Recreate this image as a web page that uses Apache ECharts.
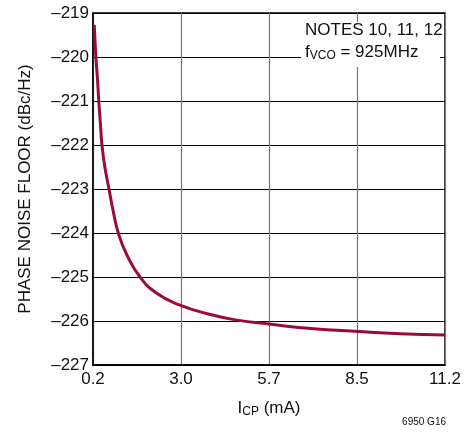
<!DOCTYPE html>
<html>
<head>
<meta charset="utf-8">
<script src="https://cdn.jsdelivr.net/npm/echarts@6/dist/echarts.min.js"></script>
<style>
html,body{margin:0;padding:0;background:#fff;}
#c{width:474px;height:433px;}
</style>
</head>
<body>
<div id="c"></div>
<script>
// Data
const icp = [0.24, 0.29, 0.34, 0.38, 0.43, 0.48, 0.57, 0.70, 0.83, 0.99, 1.26, 1.67, 2.19, 2.92, 3.8, 4.7, 5.7, 7.0, 8.5, 9.8, 11.2];
const noise = [-219.27, -220.0, -220.5, -221.0, -221.5, -222.0, -222.5, -223.0, -223.5, -224.0, -224.5, -225.0, -225.37, -225.64, -225.84, -225.98, -226.07, -226.17, -226.24, -226.29, -226.32];
const xTickLabels = ['0.2', '3.0', '5.7', '8.5', '11.2'];
const xStart = 0.2;
const xEnd = 11.2;
const yMin = -227;
const yMax = -219;

const FONT = '"Liberation Sans Narrow", "Liberation Sans", Arial, sans-serif';
const xStep = (xEnd - xStart) / (xTickLabels.length - 1);

const chart = echarts.init(document.getElementById('c'), null, {renderer: 'canvas'});
chart.setOption({
  animation: false,
  backgroundColor: '#fff',
  grid: {left: 93, right: 29, top: 13, bottom: 68, containLabel: false,
         show: true, borderColor: '#000', borderWidth: 1.5},
  xAxis: {
    type: 'value',
    min: 0, max: xEnd - xStart, interval: xStep,
    axisLine: {show: true, lineStyle: {color: '#000', width: 1.5}},
    axisTick: {show: false},
    splitLine: {show: true, lineStyle: {color: '#777', width: 1.2}},
    axisLabel: {
      color: '#111', fontFamily: FONT, fontSize: 17, margin: 6,
      formatter: v => xTickLabels[Math.round(v / xStep)]
    },
    name: '{i|I}{s|CP}{i| (mA)}',
    nameLocation: 'middle', nameGap: 34,
    nameTextStyle: {
      rich: {
        i: {fontFamily: FONT, fontSize: 17, color: '#111'},
        s: {fontFamily: FONT, fontSize: 12, color: '#111', verticalAlign: 'bottom', padding: [7, 0, 0, 0]}
      }
    }
  },
  yAxis: {
    type: 'value',
    min: yMin, max: yMax, interval: 1,
    axisLine: {show: true, lineStyle: {color: '#000', width: 1.5}},
    axisTick: {show: false},
    splitLine: {show: true, lineStyle: {color: '#000', width: 1.2}},
    axisLabel: {
      color: '#111', fontFamily: FONT, fontSize: 17, margin: 4,
      formatter: v => (v < 0 ? '\u2013' : '') + Math.abs(v)
    },
    name: 'PHASE NOISE FLOOR (dBc/Hz)',
    nameLocation: 'middle', nameGap: 59, nameRotate: 90,
    nameTextStyle: {fontFamily: FONT, fontSize: 17, color: '#111'}
  },
  series: [{
    type: 'line',
    data: icp.map((x, i) => [x - xStart, noise[i]]),
    smooth: 0.5,
    showSymbol: false,
    lineStyle: {color: '#9a0b35', width: 3},
    z: 5
  }],
  graphic: [
    {type: 'rect', shape: {x: 301, y: 22, width: 139, height: 45}, style: {fill: '#fff'}, z: 10},
    {type: 'text', left: 305, top: 22, z: 11,
     style: {text: 'NOTES 10, 11, 12', font: '17px ' + FONT, fill: '#111'}},
    {type: 'text', left: 305, top: 44, z: 11,
     style: {text: '{a|f}{s|VCO}{a| = 925MHz}', fill: '#111',
       rich: {
         a: {fontFamily: FONT, fontSize: 17, fill: '#111'},
         s: {fontFamily: FONT, fontSize: 12, fill: '#111', verticalAlign: 'bottom', padding: [7, 0, 0, 0]}
       }}},
    {type: 'text', right: 28, top: 417, z: 11,
     style: {text: '6950 G16', font: '10px ' + FONT, fill: '#111'}}
  ]
});
</script>
</body>
</html>
